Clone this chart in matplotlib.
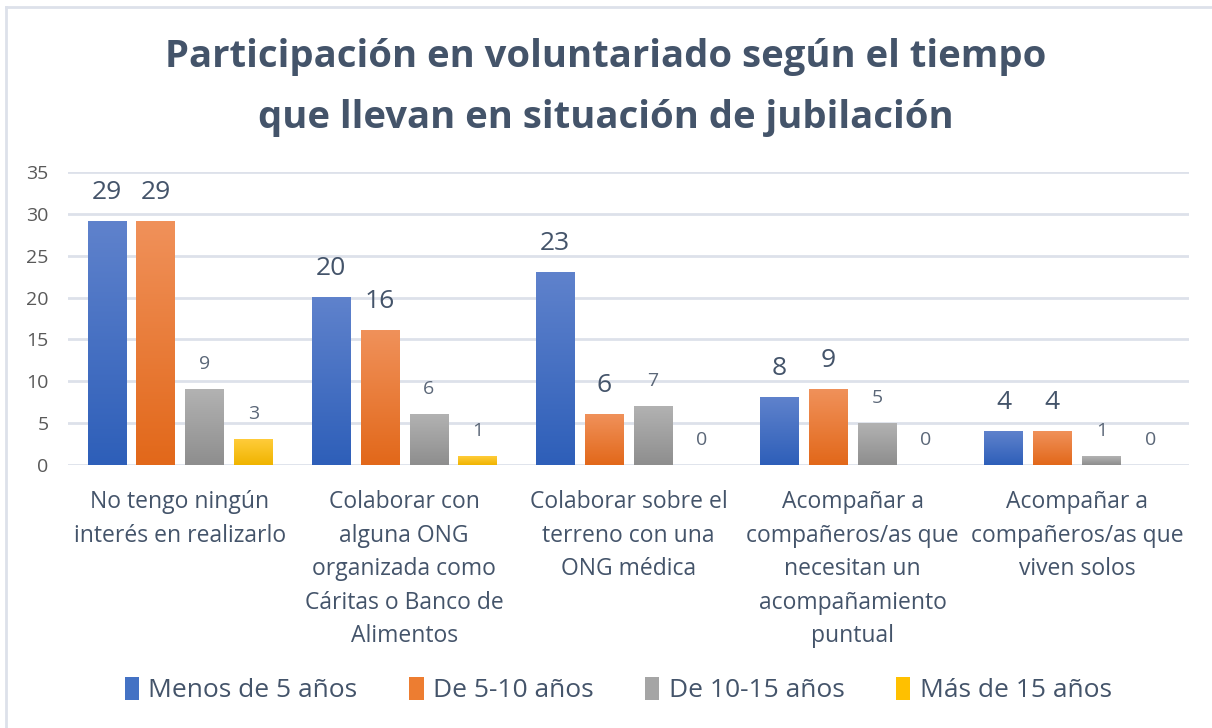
import numpy as np
import matplotlib
matplotlib.use("Agg")
import matplotlib.pyplot as plt
from matplotlib.colors import LinearSegmentedColormap
from matplotlib.lines import Line2D
from matplotlib.patches import Patch

plt.rcParams['font.family'] = ['Open Sans', 'DejaVu Sans']

title = "Participación en voluntariado según el tiempo\nque llevan en situación de jubilación"
categories = [
    "No tengo ningún\ninterés en realizarlo",
    "Colaborar con\nalguna ONG\norganizada como\nCáritas o Banco de\nAlimentos",
    "Colaborar sobre el\nterreno con una\nONG médica",
    "Acompañar a\ncompañeros/as que\nnecesitan un\nacompañamiento\npuntual",
    "Acompañar a\ncompañeros/as que\nviven solos",
]
series_names = ["Menos de 5 años", "De 5-10 años", "De 10-15 años", "Más de 15 años"]
menos_5 = [29, 20, 23, 8, 4]
de_5_10 = [29, 16, 6, 9, 4]
de_10_15 = [9, 6, 7, 5, 1]
mas_15 = [3, 1, 0, 0, 0]
series_values = [menos_5, de_5_10, de_10_15, mas_15]

# (top colour, bottom colour, legend colour)
grads = [
    ("#5f82cc", "#2e5fb9", "#4472c4"),
    ("#f0915a", "#e2681a", "#ed7d31"),
    ("#b2b2b2", "#8e8e8e", "#a5a5a5"),
    ("#ffcc3a", "#f0b400", "#ffc000"),
]
label_style = [(19, "#44546a"), (19, "#44546a"), (14, "#5b6778"), (14, "#5b6778")]

fig = plt.figure(figsize=(12.12, 7.28), dpi=100)
ax = fig.add_axes([0.056, 0.361, 0.925, 0.403])

x = np.arange(len(categories))
width = 0.17
pitch = 0.218
offsets = (np.arange(4) - 1.5) * pitch

grad = np.linspace(0, 1, 100).reshape(-1, 1)
for k, vals in enumerate(series_values):
    top, bot, solid = grads[k]
    cmap = LinearSegmentedColormap.from_list(f"g{k}", [bot, top])
    bars = ax.bar(x + offsets[k], vals, width, color="none", edgecolor="none", zorder=2)
    for b in bars:
        if b.get_height() <= 0:
            continue
        x0, y0 = b.get_x(), b.get_y()
        ax.imshow(grad, extent=[x0, x0 + b.get_width(), y0, y0 + b.get_height()],
                  origin="lower", aspect="auto", cmap=cmap, zorder=2)
    fs, col = label_style[k]
    for b, v in zip(bars, vals):
        ax.annotate(str(v), (b.get_x() + b.get_width() / 2, b.get_height()),
                    xytext=(0, 12), textcoords="offset points",
                    ha="center", va="bottom", fontsize=fs, color=col)

ax.set_xlim(-0.5, len(categories) - 0.5)
ax.set_ylim(0, 35)
ax.set_yticks(np.arange(0, 36, 5))
ax.yaxis.grid(True, color="#dde1ea", linewidth=2)
ax.set_axisbelow(True)
for s in ax.spines.values():
    s.set_visible(False)
ax.tick_params(axis="both", length=0)
ax.tick_params(axis="y", labelsize=14, labelcolor="#595959", pad=14)
ax.set_xticks(x)
ax.set_xticklabels(categories, fontsize=16.5, color="#44546a", linespacing=1.53)
ax.tick_params(axis="x", pad=18)

fig.text(0.5, 0.880, title, ha="center", va="center", fontsize=27.5,
         fontweight="bold", color="#44546a", linespacing=1.78)

handles = [Patch(facecolor=g[2], edgecolor="none") for g in grads]
fig.legend(handles, series_names, loc="center", bbox_to_anchor=(0.51, 0.052),
           ncol=4, frameon=False, fontsize=19, labelcolor="#44546a",
           handlelength=0.55, handleheight=0.95, handletextpad=0.35, columnspacing=1.95)

# chart frame (top and left edges visible)
fig.add_artist(Line2D([0.005, 1.0], [0.991, 0.991], transform=fig.transFigure,
                      color="#dde1ea", linewidth=2))
fig.add_artist(Line2D([0.005, 0.005], [0.0, 0.991], transform=fig.transFigure,
                      color="#dde1ea", linewidth=2))

fig.savefig("out.png", dpi=100)
